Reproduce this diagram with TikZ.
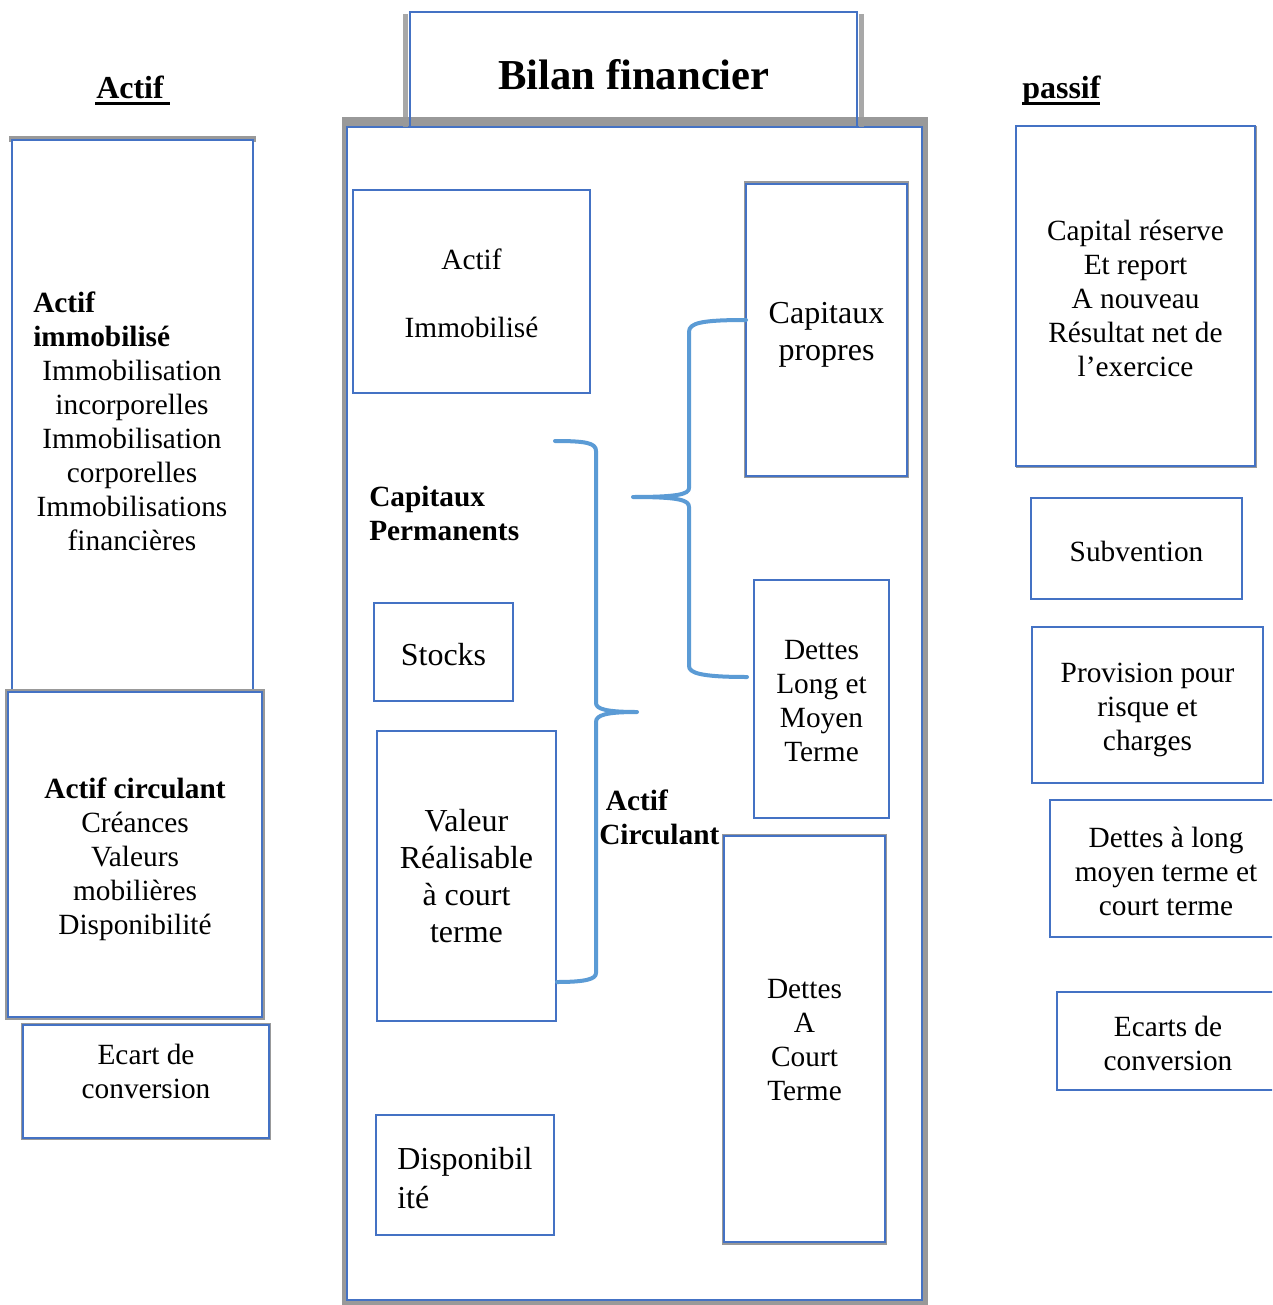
\documentclass[tikz,border=0pt]{standalone}
\usepackage{fontspec}
\setmainfont{Liberation Serif}
\definecolor{boxblue}{HTML}{4472C4}
\definecolor{braceblue}{HTML}{5B9BD5}
\definecolor{edgegray}{HTML}{999999}
\newcommand\fsA{\fontsize{22}{25.5}\selectfont}
\newcommand\fsB{\fontsize{24}{27.75}\selectfont}
\begin{document}
\begin{tikzpicture}[x=0.75pt,y=-0.75pt,
  sz/.style 2 args={minimum width={#1*0.75pt}, minimum height={#2*0.75pt}},
  box/.style={draw=boxblue, line width=2pt, fill=white, inner sep=0pt, outer sep=0pt},
  txt/.style={inner sep=0pt, align=center, font=\fsA},
  txtB/.style={inner sep=0pt, align=center, font=\fsB},
  txtb/.style={inner sep=0pt, font=\fsA\bfseries},
  head/.style={inner sep=0pt, font=\fontsize{24}{28}\selectfont\bfseries},
  uline/.style={line width=2.2pt, black},
  brace/.style={draw=braceblue, line width=3pt, line cap=round, line join=round},
  rim/.style={fill=edgegray}]
\clip (0,0) rectangle (1272,1305);
\fill[white] (0,0) rectangle (1272,1305);

% ---- column headers
\node[head, anchor=base west] (hactif) at (96,99) {Actif};
\draw[uline] (95,103.5) -- (170,103.5);
\node[head, anchor=base west] (hpassif) at (1022,99) {passif};
\draw[uline] (1022,103.5) -- (1100,103.5);

% ---- central frame with its grey rim
\fill[rim] (342,117) rectangle (928,1305);
\node[box, sz={575}{1173}] (cadre) at (634.5,713.5) {};

% ---- title tab
\fill[white] (410,12) rectangle (857,117);
\fill[edgegray, opacity=0.85] (403,14) rectangle (408,127);
\fill[edgegray, opacity=0.85] (859,14) rectangle (864,127);
\draw[boxblue, line width=2pt] (410,127) -- (410,12) -- (857,12) -- (857,127);
\node[inner sep=0pt, font=\fontsize{32}{38}\selectfont\bfseries] (titre) at (634,75) {Bilan financier};

% ---- left column: actif
\fill[rim] (9,136) rectangle (256,142);
\node[box, sz={241}{552}] (immo) at (132.5,416) {};
\fill[rim] (5,689) rectangle (265,1020);
\node[box, sz={254}{325}] (circ) at (135,854.5) {};
\fill[rim] (21,1023) rectangle (271,1140);
\node[box, sz={246}{113}] (ecart) at (146,1081.5) {};
\node[txtb, align=left, anchor=west] (immotitre) at (33,319) {Actif\\immobilisé};
\node[txt] (immoliste) at (132,455)
  {Immobilisation\\incorporelles\\Immobilisation\\corporelles\\Immobilisations\\financières};
\node[txt] (circtxt) at (135,859.5)
  {\textbf{Actif circulant}\\Créances\\Valeurs\\mobilières\\Disponibilité};
\node[txt] (ecarttxt) at (146,1071.5) {Ecart de\\conversion};

% ---- inside the frame
\node[box, sz={237}{203}] (actimmo) at (471.5,291.5) {};
\node[txt] (actimmotxt) at (471.5,293.5) {Actif\\[25.5pt]Immobilisé};
\fill[rim] (744,181) rectangle (909,478);
\node[box, sz={161}{292}] (cappro) at (826.5,330) {};
\node[txtB] (capprotxt) at (826.5,334.5) {Capitaux\\propres};
\node[box, sz={139}{98}] (stocks) at (443.5,652) {};
\node[txtB] (stockstxt) at (443.5,655) {Stocks};
\node[box, sz={135}{238}] (dlmt) at (821.5,699) {};
\node[txt] (dlmttxt) at (821.5,701) {Dettes\\Long et\\Moyen\\Terme};
\node[box, sz={179}{290}] (vrct) at (466.5,876) {};
\node[txtB] (vrcttxt) at (466.5,876.5) {Valeur\\Réalisable\\à court\\terme};
\fill[rim] (722,834) rectangle (887,1245);
\node[box, sz={161}{406}] (dct) at (804.5,1039) {};
\node[txt] (dcttxt) at (804.5,1040) {Dettes\\A\\Court\\Terme};
\node[box, sz={178}{120}] (dispo) at (465,1175) {};
\node[inner sep=0pt, align=left, anchor=west, font=\fontsize{24}{29}\selectfont] (dispotxt) at (397,1178) {Disponibil\\ité};

\node[txtb, align=left, anchor=west] (cperm) at (369,513) {Capitaux\\Permanents};
\node[txtb, align=left, anchor=west] (acirc) at (599,817) {\hspace*{5pt}Actif\\Circulant};

% ---- braces
\draw[brace] (555,441) .. controls (586,441) and (596,443) .. (596,451)
  -- (596,703) .. controls (596,709) and (606,712) .. (637,712)
  .. controls (606,712) and (596,715) .. (596,722)
  -- (596,973) .. controls (596,979) and (586,982) .. (557,982);
\draw[brace] (746,320) .. controls (701,320) and (689,323) .. (689,332)
  -- (689,488) .. controls (689,494) and (679,497) .. (633,497)
  .. controls (679,497) and (689,500) .. (689,507)
  -- (689,666) .. controls (689,673) and (701,677) .. (747,677);

% ---- right column: passif
\fill[rim] (1016,126) rectangle (1257,468);
\node[box, sz={239}{340}] (capital) at (1135.5,296) {};
\node[txt] (capitaltxt) at (1135.5,298) {Capital réserve\\Et report\\A nouveau\\Résultat net de\\l’exercice};
\node[box, sz={211}{101}] (subv) at (1136.5,548.5) {};
\node[txt] (subvtxt) at (1136.5,551.5) {Subvention};
\node[box, sz={231}{156}] (prov) at (1147.5,705) {};
\node[txt] (provtxt) at (1147.5,709.5) {Provision pour\\risque et\\charges};
\node[box, sz={232}{137}] (dlt) at (1166,868.5) {};
\node[txt] (dlttxt) at (1166,871) {Dettes à long\\moyen terme et\\court terme};
\node[box, sz={222}{98}] (ecarts) at (1168,1041) {};
\node[txt] (ecartstxt) at (1168,1043.5) {Ecarts de\\conversion};
\end{tikzpicture}
\end{document}
